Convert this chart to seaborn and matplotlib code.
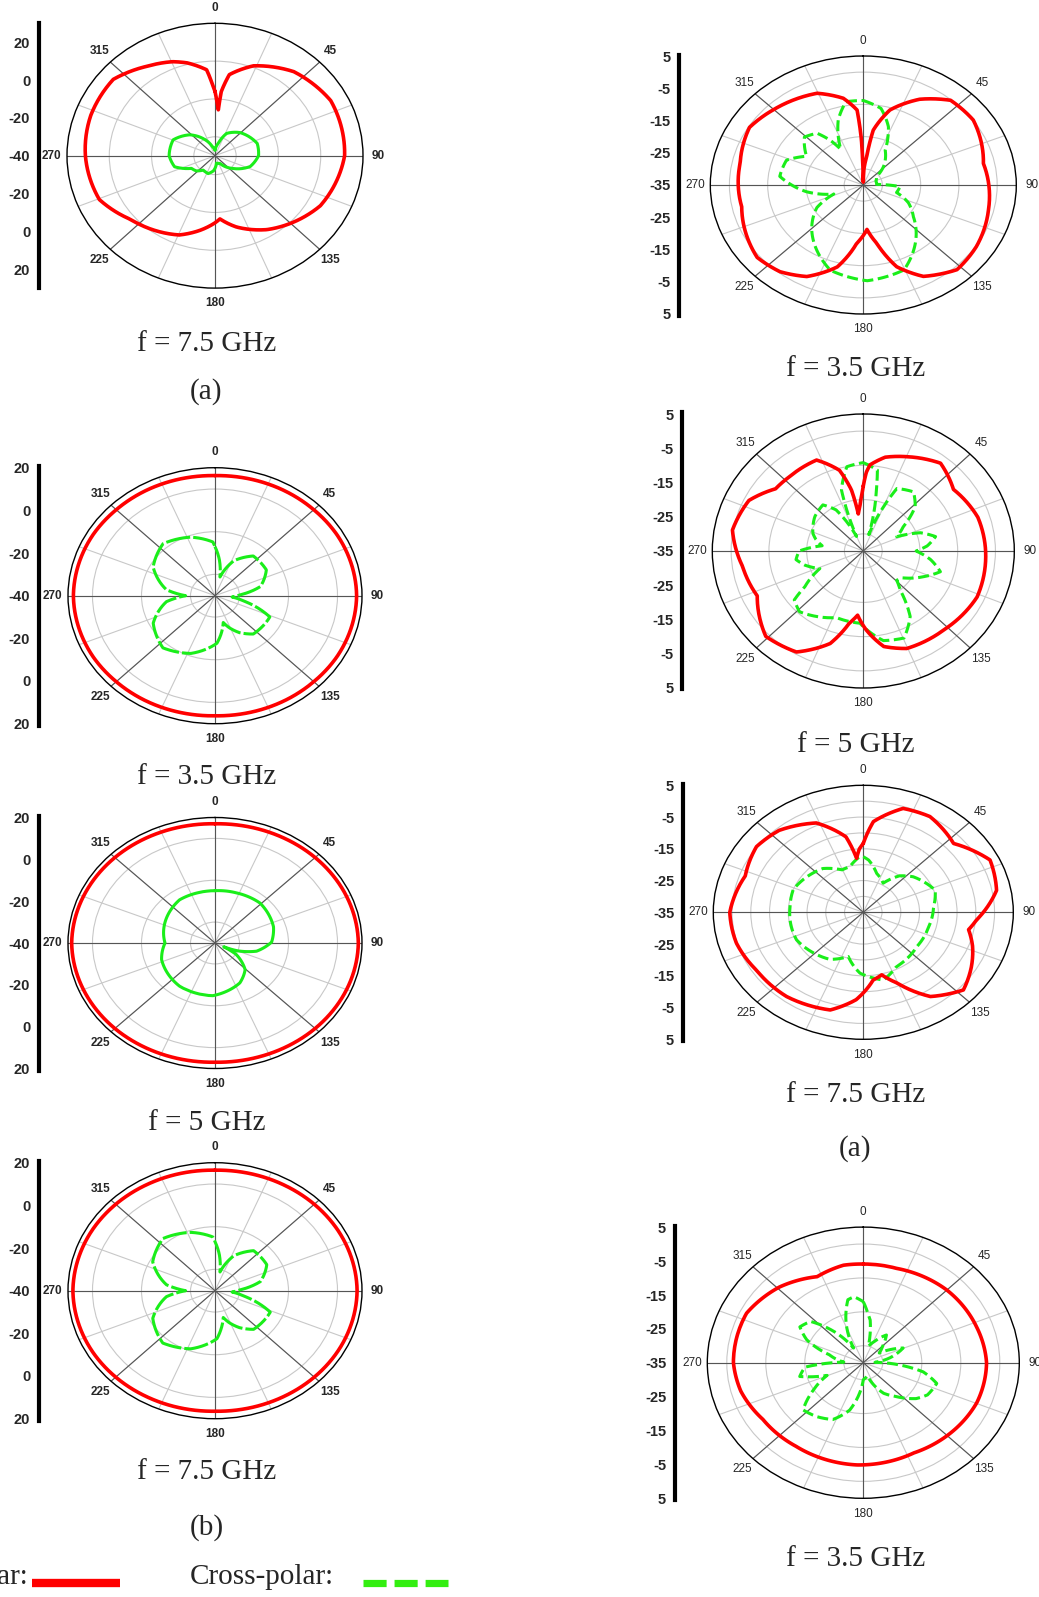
import numpy as np
import matplotlib
matplotlib.use("Agg")
import matplotlib.pyplot as plt
from matplotlib.lines import Line2D
import seaborn as sns

sns.set_style("white")
plt.rcParams['font.family'] = ['Liberation Sans', 'DejaVu Sans']

W, H = 1039, 1597
RED = '#ff0000'
GREEN = '#1aee1a'

# ---- data (angle in degrees, gain in dB) ----
# left column, top: f = 7.5 GHz (a)
l1_co_deg = [0, 2, 3.7, 5, 9, 21, 40, 62, 90, 118, 148, 165, 176, 180, 190, 202, 230, 247, 270, 290, 310, 326, 338, 345, 355, 358]
l1_co_db = [-6, -12, -15.7, -6, 3.4, 10.9, 18, 22, 21.3, 16.4, 6.1, -1, -6.5, -4.5, 0, 5.2, 12.3, 19.4, 21.3, 22.5, 22.8, 17.1, 13.6, 10.8, 5.6, -2]
l1_x_deg = [0, 14, 25, 44, 72, 90, 109, 128, 150, 170, 185, 199, 216, 228, 239, 253, 270, 293, 313, 330, 345]
l1_x_db = [-37, -33, -27, -23, -19, -19.4, -22.4, -29, -35.3, -36, -32, -30, -30.6, -28, -27, -20, -18.3, -18.5, -23.8, -30, -35]

# left column: f = 3.5 GHz (b)
l2_co_deg = [0, 30, 45, 60, 90, 120, 135, 150, 180, 210, 225, 240, 270, 300, 315, 330]
l2_co_db = [16.3, 16.8, 17, 17.4, 17.8, 17.4, 17, 16.8, 16.3, 16.8, 17, 17.4, 17.8, 17.4, 17, 16.8]
l2_x_deg = [0, 6, 13, 25, 40, 60, 77, 88, 95, 102, 114, 139, 150, 159, 165, 172, 178, 200, 221, 243, 262, 270, 278, 298, 319, 340, 358]
l2_x_db = [-17, -23, -31, -22, -15.7, -15.8, -21, -30, -33, -28, -15.5, -16.2, -20, -24, -27, -22, -17.7, -11.2, -7.6, -11.7, -20, -28, -20, -11.4, -7.7, -10.8, -14.8]

# left column: f = 5 GHz (b)
l3_co_deg = [0, 45, 90, 135, 180, 225, 270, 315]
l3_co_db = [17, 17.8, 18.5, 17.8, 17, 17.8, 18.5, 17.8]
l3_x_deg = [0, 20, 44, 72, 89, 103, 112, 117, 122, 136, 152, 182, 215, 250, 270, 295, 325, 345]
l3_x_db = [-15, -14.5, -13.5, -14.9, -16.9, -22.6, -30, -36, -30, -22.3, -18.4, -14.8, -14.8, -16.8, -19.6, -17.4, -14.8, -15]

# left column: f = 7.5 GHz (b)
l4_co_deg = [0, 30, 45, 60, 90, 120, 135, 150, 180, 210, 225, 240, 270, 300, 315, 330]
l4_co_db = [16.5, 17, 17.3, 17.6, 18, 17.6, 17.3, 17, 16.5, 17, 17.3, 17.6, 18, 17.6, 17.3, 17]
l4_x_deg = [0, 6, 13, 25, 40, 60, 77, 88, 95, 102, 114, 139, 150, 159, 165, 172, 178, 200, 221, 243, 262, 270, 278, 298, 319, 340, 358]
l4_x_db = [-17, -23, -31, -22, -15.5, -15.6, -21, -30, -33, -28, -15.3, -16, -20, -24, -27, -22, -17.5, -11, -7.5, -11.5, -20, -28, -20, -11.2, -7.6, -10.9, -14.8]

# right column: f = 3.5 GHz (a)
r1_co_deg = [0, 2, 5.7, 8.7, 16.7, 29, 41, 55, 78, 103, 123, 137, 151, 161, 169, 176, 185.5, 195, 207.5, 219, 231, 258, 282, 301, 315, 337, 349, 356, 358, 359]
r1_co_db = [-34, -30, -26.2, -17.8, -10.7, -4.6, -0.2, 0.1, -2.9, -1.4, 0.2, 0.9, -2.6, -8.2, -16.6, -21.2, -16.8, -8.7, -3, -0.4, 0.7, -2.5, -2.1, -0.3, -1.9, -4.1, -7.6, -11.7, -21, -30]
r1_x_deg = [0, 11, 20, 28, 43, 53, 70, 87, 93, 105, 115, 127, 143, 158, 178, 198, 224, 240, 250, 262, 277, 291, 301, 314, 323, 328, 332, 342, 350]
r1_x_db = [-8.8, -10.8, -15.8, -22.8, -27.3, -30.7, -31.5, -31.5, -25.4, -26, -22, -18.6, -12.4, -6.6, -5.3, -7.2, -15.6, -21, -26.8, -20, -13, -13.5, -17.7, -13.6, -14.9, -18.6, -22.5, -13.8, -8.8]

# right column: f = 5 GHz (a)
r2_co_deg = [0, 2, 4, 12, 23, 38.6, 53, 72, 90, 114, 137, 158, 169, 178, 184.6, 190, 198, 211, 226, 245, 262, 280, 296, 308, 318, 335, 345, 350, 353, 356, 359]
r2_co_db = [-16, -12, -9.8, -7, -5.1, -2.2, -5.1, -3.1, -2.6, -2, -3.6, -4.3, -6.6, -11.9, -16.2, -13.6, -6.6, -0.6, 0.9, -4, -2.7, 0.2, -1.3, -5.5, -5.8, -5.7, -10.6, -16.9, -24.1, -22, -18]
r2_x_deg = [0, 9, 11, 17, 22, 26, 37.6, 46.7, 56, 64.7, 70.5, 77.6, 85, 90, 98, 106.5, 115, 127, 134, 139.4, 147, 157, 168.5, 182.4, 200, 223.6, 232, 236, 246, 255, 262, 270, 278, 285, 291, 308, 321.5, 329, 337, 342, 350]
r2_x_db = [-9.2, -11.1, -16.8, -30, -22, -14.7, -13.2, -16.1, -22.2, -25.2, -19, -15.4, -18, -21, -17, -13.7, -17.3, -22, -22.7, -20, -12.2, -7.4, -8.3, -13.9, -14.3, -10.5, -11.8, -16.3, -22.4, -19, -17, -18, -24, -22, -20.7, -18.7, -17.8, -21, -30.4, -16.3, -10]

# right column: f = 7.5 GHz (a)
r3_co_deg = [0, 5.4, 18, 30.5, 48, 64, 79, 94.5, 101, 110, 121, 132.5, 146, 158, 166, 173, 184, 196, 217.6, 237, 254, 270, 290, 306, 319, 336, 349, 354, 357]
r3_co_db = [-13.3, -6.3, -0.6, 0, -2.6, 2.6, 1.2, -4.7, -6.4, -4, -1.4, 1.2, -3, -11, -14.7, -13.5, -7.4, -3, -1.5, -1.2, 0.2, 0.6, -1.5, 0.2, -0.8, -4.2, -10.8, -17.9, -15]
r3_x_deg = [0, 5, 16, 30, 40, 50, 70, 85, 105, 127, 153, 166, 182.6, 196, 211, 244, 275, 291, 322, 337, 346, 357]
r3_x_db = [-17.5, -18.5, -22.2, -24.4, -20, -17.6, -14.6, -16.2, -17, -17.1, -15.7, -13, -15.8, -20.5, -17.7, -15.2, -15.4, -15, -17.5, -20.5, -20.2, -17.4]

# right column, bottom: f = 3.5 GHz
r4_co_deg = [0, 17, 45, 70, 90, 112, 133, 154, 183, 215, 237, 255, 270, 296, 316, 335, 350]
r4_co_db = [-5.9, -5.9, -4.7, -4.1, -3.4, -3.6, -4.5, -5.4, -4.8, -4.9, -4.3, -2.5, -1.7, -1.7, -4, -7, -5.8]
r4_x_deg = [0, 4, 8, 15, 25, 36, 45, 55, 67, 78, 88, 100, 108, 120, 128, 140, 150, 165, 180, 186, 194, 205, 217, 228, 238, 248, 256, 265, 272, 285, 295, 303, 312, 322, 330, 340, 348, 353]
r4_x_db = [-17, -20, -22.3, -30, -28, -24.9, -28, -30, -23.9, -28, -32, -19.4, -15.2, -16, -17.8, -22, -24.6, -31, -30, -26, -20.6, -16.5, -15.1, -14.2, -20, -25, -18.2, -20, -30, -26, -19, -15.6, -16.8, -24, -30, -22, -16, -15.4]

fig = plt.figure(figsize=(W / 100, H / 100), dpi=100)


def closed(deg, db):
    t = np.deg2rad(np.append(deg, deg[0] + 360))
    return t, np.append(db, db[0])


def scale_bar(x, cy, half, span, step, minor, labels):
    bax = fig.add_axes([x / W, 1 - (cy + half) / H, 0.002, 2 * half / H])
    bax.set_ylim(-span, span)
    pos = np.arange(-span + (span % step), span + 0.1, step)
    bax.set_yticks(pos)
    bax.set_yticklabels(labels, fontsize=10.5, fontweight='bold')
    bax.set_yticks(np.arange(-span, span + 0.1, minor), minor=True)
    bax.set_xticks([])
    for s in ['top', 'right', 'bottom']:
        bax.spines[s].set_visible(False)
    bax.spines['left'].set_linewidth(3)
    bax.spines['left'].set_color('black')
    bax.tick_params(axis='y', which='major', length=5, width=1.6, direction='out', pad=1)
    bax.tick_params(axis='y', which='minor', length=3, width=1.0, direction='out')
    bax.patch.set_alpha(0)


def panel(cx, cy, a, b, rmin, rmax, rings, bold, co, cross, cross_dash):
    ax = fig.add_axes([(cx - a) / W, 1 - (cy + b) / H, 2 * a / W, 2 * b / H], projection='polar')
    ax.set_aspect('auto')
    ax.set_theta_zero_location('N')
    ax.set_theta_direction(-1)
    ang = np.arange(0, 360, 22.5)
    ax.set_xticks(np.deg2rad(ang))
    ax.set_xticklabels([str(int(d)) if d % 45 == 0 else '' for d in ang],
                       fontsize=8.5, fontweight='bold' if bold else 'normal')
    ax.tick_params(axis='x', pad=4, length=3, direction='in', width=0.8)
    ax.set_yticks(rings)
    ax.set_yticklabels([])
    ax.grid(True, color='#c8c8c8', lw=0.8)
    for d in range(0, 360, 45):
        ax.plot([np.deg2rad(d)] * 2, [rmin, rmax], color='#555555', lw=0.8, zorder=1)
    t, r = closed(*co)
    sns.lineplot(x=t, y=r, ax=ax, sort=False, estimator=None, color=RED, lw=2.6, zorder=4)
    ax.lines[-1].get_path()._interpolation_steps = 40
    t, r = closed(*cross)
    sns.lineplot(x=t, y=r, ax=ax, sort=False, estimator=None, color=GREEN, lw=2.2, zorder=3)
    ax.lines[-1].get_path()._interpolation_steps = 40
    if cross_dash is not None:
        ax.lines[-1].set_dashes(cross_dash)
    ax.set_rlim(rmin, rmax)
    ax.set_xlabel('')
    ax.set_ylabel('')
    ax.spines['polar'].set_color('black')
    ax.spines['polar'].set_linewidth(1.0)
    return ax


left_lab = ['20', '0', '-20', '-40', '-20', '0', '20']
right_lab = ['5', '-5', '-15', '-25', '-35', '-25', '-15', '-5', '5']
left_rings = [-30, -10, 10]
right_rings = [-30, -20, -10, 0]
rdash = (3.6, 1.5)

# left column
panel(215, 155.7, 148, 132.4, -40, 30, left_rings, True, (l1_co_deg, l1_co_db), (l1_x_deg, l1_x_db), None)
scale_bar(38.5, 155.7, 132.4, 70, 20, 10, left_lab)
panel(215, 595.7, 147, 128, -40, 20, left_rings, True, (l2_co_deg, l2_co_db), (l2_x_deg, l2_x_db), (8, 1))
scale_bar(38.5, 595.7, 130, 61, 20, 10, left_lab)
panel(215, 943, 147, 125.5, -40, 20, left_rings, True, (l3_co_deg, l3_co_db), (l3_x_deg, l3_x_db), None)
scale_bar(38.5, 943, 127.5, 61, 20, 10, left_lab)
panel(215, 1290.7, 147, 128, -40, 20, left_rings, True, (l4_co_deg, l4_co_db), (l4_x_deg, l4_x_db), (8, 1))
scale_bar(38.5, 1290.7, 130, 61, 20, 10, left_lab)

# right column
panel(863.3, 185, 153, 129, -35, 5, right_rings, False, (r1_co_deg, r1_co_db), (r1_x_deg, r1_x_db), rdash)
scale_bar(679.3, 185, 130.5, 40.5, 10, 2.5, right_lab)
panel(863.3, 551, 151, 137, -35, 5, right_rings, False, (r2_co_deg, r2_co_db), (r2_x_deg, r2_x_db), rdash)
scale_bar(682.3, 551, 138.5, 40.5, 10, 2.5, right_lab)
panel(863.3, 912.3, 150, 127, -35, 5, [-30, -25, -20, -15, -10, -5, 0], False, (r3_co_deg, r3_co_db), (r3_x_deg, r3_x_db), rdash)
scale_bar(682.5, 912.3, 128.5, 40.5, 10, 2.5, right_lab)
panel(863.3, 1362.7, 156, 135.6, -35, 5, right_rings, False, (r4_co_deg, r4_co_db), (r4_x_deg, r4_x_db), rdash)
scale_bar(674.5, 1362.7, 137, 40.5, 10, 2.5, right_lab)

# captions
cap = dict(fontsize=21, family=['Liberation Serif', 'DejaVu Serif'], ha='center', va='center')
for x, y, s in [(207, 344, 'f = 7.5 GHz'), (206, 392, '(a)'), (207, 777, 'f = 3.5 GHz'),
                (207, 1123, 'f = 5 GHz'), (207, 1472, 'f = 7.5 GHz'), (207, 1528, '(b)'),
                (856, 369, 'f = 3.5 GHz'), (856, 745, 'f = 5 GHz'), (856, 1095, 'f = 7.5 GHz'),
                (855, 1149, '(a)'), (856, 1559, 'f = 3.5 GHz')]:
    fig.text(x / W, 1 - y / H, s, **cap)

# legend row (the co-polar label runs off the left edge, as in the source figure)
fig.text(29 / W, 1 - 1577 / H, 'Co-polar:', **dict(cap, ha='right'))
fig.text(190 / W, 1 - 1577 / H, 'Cross-polar:', **dict(cap, ha='left'))
fig.add_artist(Line2D([32 / W, 120 / W], [1 - 1583 / H] * 2, color=RED, lw=6, solid_capstyle='butt'))
fig.add_artist(Line2D([363 / W, 448 / W], [1 - 1583 / H] * 2, color='#33ee11', lw=5.2,
                      dashes=(3.2, 1.1), dash_capstyle='butt'))

fig.savefig('out.png', dpi=100)
